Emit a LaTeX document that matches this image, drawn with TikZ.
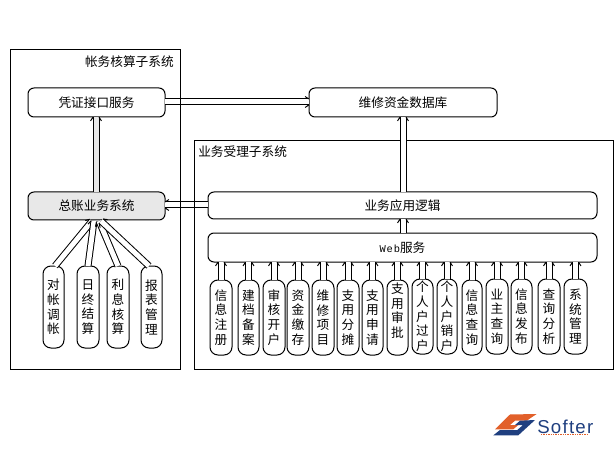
\documentclass[tikz,border=0pt]{standalone}
\usepackage{fontspec}
\setmainfont{Noto Sans CJK SC}
\newfontfamily\webfont[LetterSpace=8]{Liberation Mono}
\newfontfamily\logofont[LetterSpace=6.7]{Liberation Sans}
\usetikzlibrary{calc,decorations.markings}
\definecolor{logoblue}{HTML}{1F3F7F}
\definecolor{logoorange}{HTML}{E2602A}
\definecolor{panelgray}{HTML}{E8E8E8}
\tikzset{
  x=0.75pt,y=-0.75pt,
  framebox/.style={draw=black,line width=0.75pt,fill=none,inner sep=0pt,outer sep=0pt},
  roundbox/.style={draw=black,line width=0.75pt,fill=white,rounded corners=4.5pt,inner sep=0pt,outer sep=0pt,font=\fontsize{9.5pt}{11pt}\selectfont},
  grayround/.style={roundbox,fill=panelgray},
  tallbox/.style={roundbox,align=center,rounded corners=6pt},
  title/.style={inner sep=0pt,font=\fontsize{9.5pt}{11pt}\selectfont},
  hollow/.style={draw=black,line width=0.75pt,double=white,double distance=3.75pt,
    postaction={decorate,decoration={markings,mark=at position -0.2pt with {
      \draw[black,line width=0.75pt] (-2.7pt,4.1pt) -- (0pt,2.25pt);
      \draw[black,line width=0.75pt] (-2.7pt,-4.1pt) -- (0pt,-2.25pt);
    }}}},
  hollowgray/.style={hollow,double=panelgray},
}
\newcommand{\boxnode}[7]{\node[#1,minimum width={(#5-#3)*0.75pt},minimum height={(#6-#4)*0.75pt}] (#2) at ({(#3+#5)/2},{(#4+#6)/2}) {#7};}
\begin{document}
\begin{tikzpicture}
\useasboundingbox (0,0) rectangle (614,449);
\boxnode{roundbox}{voucher}{28}{88}{165}{117}{凭证接口服务}
\boxnode{grayround}{ledger}{28}{192}{165}{220}{总账业务系统}
\boxnode{roundbox}{db}{309}{88}{497}{117}{维修资金数据库}
\boxnode{roundbox}{logic}{208}{192}{597}{219}{业务应用逻辑}
\boxnode{roundbox}{web}{208}{233}{597}{262}{{\webfont\fontsize{7.8pt}{9pt}\selectfont Web}服务}
% horizontal connectors lie under the frames
\coordinate (hv) at (0,102);
\draw[hollow] (hv -| voucher.east) -- (hv -| db.west);
\coordinate (hl) at (0,205);
\draw[hollow] (hl -| logic.west) -- (hl -| ledger.east);
\boxnode{framebox}{acct}{10}{50}{180}{369}{}
\boxnode{framebox}{biz}{194}{141}{613}{369}{}
\node[title,anchor=east] (acctt) at (174,62) {帐务核算子系统};
\node[title,anchor=west] (bizt) at (198,152) {业务受理子系统};
% small boxes, left
\boxnode{tallbox}{a1}{43}{266}{64}{348}{对\\帐\\调\\帐}
\boxnode{tallbox}{a2}{77}{266}{99}{348}{日\\终\\结\\算}
\boxnode{tallbox}{a3}{107}{266}{129}{348}{利\\息\\核\\算}
\boxnode{tallbox}{a4}{141}{266}{162}{348}{报\\表\\管\\理}
% small boxes, right
\boxnode{tallbox}{b1}{210}{280}{232}{355}{信\\息\\注\\册}
\boxnode{tallbox}{b2}{238}{280}{259}{355}{建\\档\\备\\案}
\boxnode{tallbox}{b3}{263}{280}{285}{355}{审\\核\\开\\户}
\boxnode{tallbox}{b4}{287}{280}{309}{355}{资\\金\\缴\\存}
\boxnode{tallbox}{b5}{312}{280}{334}{355}{维\\修\\项\\目}
\boxnode{tallbox}{b6}{337}{280}{359}{355}{支\\用\\分\\摊}
\boxnode{tallbox}{b7}{362}{280}{383}{355}{支\\用\\申\\请}
\boxnode{tallbox}{b8}{387}{280}{408}{355}{支\\用\\审\\批\\\mbox{}}
\boxnode{tallbox}{b9}{412}{279}{433}{354}{个\\人\\户\\过\\户}
\boxnode{tallbox}{b10}{437}{279}{457}{354}{个\\人\\户\\销\\户}
\boxnode{tallbox}{b11}{462}{280}{482}{355}{信\\息\\查\\询}
\boxnode{tallbox}{b12}{486}{279}{508}{354}{业\\主\\查\\询}
\boxnode{tallbox}{b13}{511}{279}{532}{354}{信\\息\\发\\布}
\boxnode{tallbox}{b14}{538}{279}{560}{354}{查\\询\\分\\析}
\boxnode{tallbox}{b15}{564}{279}{587}{354}{系\\统\\管\\理}
% connectors
\coordinate (vl) at (96,0);
\draw[hollowgray] (vl |- ledger.north) -- (vl |- voucher.south);
\coordinate (vd) at (403,0);
\draw[hollow] (vd |- logic.north) -- (vd |- db.south);
\draw[hollow] (vd |- web.north) -- (vd |- logic.south);
\foreach \n in {1,...,15}{
  \draw[hollow] (b\n.north) -- (b\n.north |- web.south);
}
\coordinate (t1) at (92,221);
\coordinate (t2) at (94,221);
\coordinate (t3) at (99,221);
\coordinate (t4) at (101,221);
\coordinate (s1) at (55,266);
\coordinate (s2) at (88,266);
\coordinate (s3) at (118,266);
\coordinate (s4) at (149,266);
\draw[hollow] (s1) -- (t1);
\draw[hollow] (s2) -- (t2);
\draw[hollow] (s3) -- (t3);
\draw[hollow] (s4) -- (t4);
% logo
\fill[logoorange] (495,429.3) -- (510,414.5) -- (536.7,414) -- (526.7,420.7) -- (515,420.7) -- (510,425) -- (518.3,425) -- (513.3,429.3) -- cycle;
\fill[logoblue] (493.3,435.3) -- (518.3,435.3) -- (535,420) -- (520,420.7) -- (515,425) -- (523,425) -- (517.3,430) -- (500,430) -- cycle;
\node[anchor=west,inner sep=0pt,text=logoblue,font=\logofont\fontsize{14pt}{15pt}\selectfont] (softer) at (537,426.5) {Softer};
\draw[logoorange,line width=1pt,dash pattern=on 1pt off 0.8pt] (541,434.7) -- (588,434.7);
\end{tikzpicture}
\end{document}
